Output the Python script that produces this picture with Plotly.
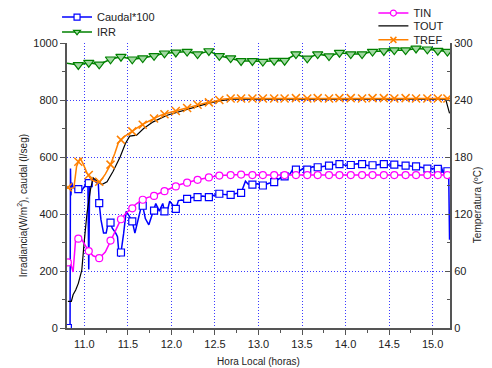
import plotly.graph_objects as go

# ---------------- data ----------------
marker_hours = [10.81, 10.93, 11.05, 11.17, 11.30, 11.42, 11.55, 11.67, 11.80, 11.92,
                12.05, 12.18, 12.30, 12.43, 12.55, 12.68, 12.80, 12.93, 13.05, 13.18,
                13.30, 13.43, 13.56, 13.68, 13.81, 13.93, 14.06, 14.19, 14.31, 14.44,
                14.56, 14.69, 14.81, 14.94, 15.06, 15.17]

# Caudal*100 (left axis)
caudal_h = [10.81, 10.835, 10.84, 10.845, 10.855, 10.87, 10.90, 10.93, 10.96, 10.99,
            11.02, 11.04, 11.05, 11.06, 11.08, 11.11, 11.13, 11.16, 11.17, 11.19,
            11.22, 11.25, 11.27, 11.30, 11.32, 11.36, 11.38, 11.40, 11.42, 11.45,
            11.48, 11.51, 11.55, 11.58, 11.62, 11.66, 11.67, 11.70, 11.74, 11.78,
            11.80, 11.82, 11.86, 11.90, 11.92, 11.96, 11.98, 12.02, 12.05, 12.08,
            12.12, 12.15, 12.18, 12.24, 12.30, 12.36, 12.43, 12.49, 12.55, 12.62,
            12.68, 12.74, 12.80, 12.85, 12.88, 12.93, 12.99, 13.05, 13.12, 13.18,
            13.22, 13.26, 13.31, 13.36, 13.40, 13.43, 13.48, 13.52, 13.56, 13.62,
            13.69, 13.75, 13.81, 13.87, 13.94, 14.00, 14.07, 14.13, 14.19, 14.25,
            14.32, 14.38, 14.44, 14.50, 14.57, 14.63, 14.69, 14.75, 14.81, 14.88,
            14.94, 15.00, 15.06, 15.10, 15.12, 15.14, 15.17, 15.185, 15.195]
caudal_v = [0, 0, 560, 465, 510, 495, 485, 487, 478, 492,
            505, 510, 205, 510, 522, 520, 512, 505, 438, 380,
            333, 333, 365, 370, 350, 333, 320, 250, 265, 330,
            409, 395, 374, 333, 380, 435, 429, 384, 362, 398,
            412, 437, 410, 437, 409, 420, 445, 430, 418, 447,
            449, 445, 453, 458, 459, 463, 459, 466, 471, 468,
            467, 472, 474, 515, 505, 503, 506, 500, 508, 512,
            520, 528, 532, 540, 560, 556, 553, 562, 556, 566,
            564, 568, 570, 574, 575, 571, 572, 576, 575, 570,
            571, 574, 575, 572, 573, 569, 570, 568, 567, 563,
            559, 560, 558, 567, 545, 555, 550, 545, 310]
caudal_mv = [0, 487, 508, 438, 370, 265, 374, 429, 412, 409,
             418, 453, 459, 459, 471, 467, 474, 503, 500, 512,
             532, 556, 556, 564, 570, 575, 572, 575, 571, 575,
             573, 570, 567, 559, 558, 550]

# IRR (left axis)
irr_h = [10.80] + marker_hours[1:]
irr_v = [929, 923, 931, 925, 943, 952, 943, 947, 955, 964,
         967, 970, 961, 972, 955, 947, 937, 937, 935, 938,
         938, 961, 946, 961, 954, 966, 961, 961, 970, 972,
         975, 975, 981, 978, 973, 970]
irr_mv = [None] + irr_v[1:]

# Temperatures (right axis, ºC)
tin_h = [10.80, 10.84, 10.87, 10.90, 10.95, 11.00, 11.05, 11.10, 11.17, 11.24,
         11.30, 11.36, 11.42, 11.48, 11.54, 11.60, 11.67, 11.73, 11.79, 11.86,
         11.92, 11.98, 12.04, 12.10, 12.17, 12.30, 12.43, 12.55, 12.68, 12.80,
         13.00, 13.50, 14.00, 14.50, 15.00, 15.17]
tin_v = [70, 68.5, 59, 94.5, 96, 88, 81, 76, 73.5, 80,
         92, 104, 114.5, 121, 126, 131, 135, 137.5, 139, 142,
         144, 146.5, 149, 151, 153, 156, 158.5, 160.5, 161, 161.5,
         161, 161, 161, 161, 161, 161]
tin_mv = [69, 94, 81, 73.5, 92, 114.5, 126, 135, 139, 144,
          149, 153, 156, 158.5, 160.5, 161, 161.5, 161, 161, 161,
          161, 161, 161, 161, 161, 161, 161, 161, 161, 161,
          161, 161, 161, 161, 161, 161]

tout_h = [10.81, 10.85, 10.87, 10.90, 10.93, 10.97, 11.00, 11.03, 11.07, 11.10,
          11.14, 11.20, 11.26, 11.33, 11.41, 11.47, 11.52, 11.60, 11.68, 11.79,
          11.95, 12.10, 12.25, 12.40, 12.55, 12.70, 13.00, 13.50, 14.00, 14.50,
          15.00, 15.15, 15.195]
tout_v = [28, 28, 35, 40, 47, 61, 93, 121, 146, 158,
          155, 151, 154, 165, 180, 194, 202, 203, 210, 217,
          224, 228, 232, 236, 239, 241, 241, 241, 241.5, 241.5,
          241, 241, 226]

tref_h = [10.80, 10.85, 10.88, 10.91, 10.95, 10.99, 11.03, 11.08, 11.13, 11.18,
          11.24, 11.30, 11.35, 11.39, 11.45, 11.54, 11.61, 11.68, 11.75, 11.81,
          11.88, 11.95, 12.02, 12.08, 12.15, 12.21, 12.27, 12.33, 12.40, 12.46,
          12.53, 12.60, 12.68, 12.75, 13.00, 13.50, 14.00, 14.50, 15.00, 15.20]
tref_v = [147, 147, 148, 170, 179, 172, 163, 156, 154, 154,
          162, 172, 184, 195, 201, 207, 211, 215, 218, 221,
          224, 226, 228, 229, 231, 232.5, 234, 236, 237, 238,
          239.5, 241, 241.5, 242, 241.5, 241.5, 242, 242, 241.5, 241.5]
tref_mv = [148, 175, 161, 154, 172, 198, 207, 214, 220.5, 225,
           228.5, 231.5, 235, 237.5, 240, 241.5, 241.5, 241.5, 241.5, 241.5,
           241.5, 242, 241.5, 242, 241.5, 242, 242, 241.5, 242, 242,
           241.5, 242, 241.5, 241.5, 241.5, 241.5]

# ---------------- styling ----------------
FONT = "Liberation Sans, Arial, sans-serif"
BLUE = "#0000ff"
GREEN = "#008000"
MAG = "#ff00ff"
ORANGE = "#ff8000"
GRID = "#3a3aff"
AXC = "#555555"

STYLE = {
    "Caudal*100": dict(color=BLUE, width=1.5, yaxis="y", legend="legend",
                       symbol="square", msize=7, mfill="white", mline=1.2),
    "IRR": dict(color=GREEN, width=1.5, yaxis="y", legend="legend2",
                symbol="triangle-down", msize=9, mfill="#a0d8a0", mline=1.2),
    "TIN": dict(color=MAG, width=1.5, yaxis="y2", legend="legend3",
                symbol="circle", msize=7, mfill="white", mline=1.2),
    "TOUT": dict(color="#000000", width=1.2, yaxis="y2", legend="legend4",
                 symbol=None, msize=0, mfill="white", mline=1),
    "TREF": dict(color=ORANGE, width=1.5, yaxis="y2", legend="legend5",
                 symbol="x-thin", msize=8, mfill=ORANGE, mline=1.5),
}

SERIES = {
    "Caudal*100": (caudal_h, caudal_v, marker_hours, caudal_mv),
    "IRR": (irr_h, irr_v, marker_hours, irr_mv),
    "TIN": (tin_h, tin_v, marker_hours, tin_mv),
    "TOUT": (tout_h, tout_v, None, None),
    "TREF": (tref_h, tref_v, marker_hours, tref_mv),
}

fig = go.Figure()

# drawing order
for name in ["IRR", "Caudal*100", "TOUT", "TREF", "TIN"]:
    st = STYLE[name]
    h, v, mh, mv = SERIES[name]
    fig.add_trace(go.Scatter(x=h, y=v, mode="lines", line=dict(color=st["color"], width=st["width"]),
                             yaxis=st["yaxis"], showlegend=False, hoverinfo="skip"))
    if st["symbol"] is not None:
        fig.add_trace(go.Scatter(x=mh, y=mv, mode="markers", yaxis=st["yaxis"], showlegend=False,
                                 marker=dict(symbol=st["symbol"], size=st["msize"], color=st["mfill"],
                                             line=dict(color=st["color"], width=st["mline"]))))

# legend entries
for name in ["Caudal*100", "IRR", "TIN", "TOUT", "TREF"]:
    st = STYLE[name]
    fig.add_trace(go.Scatter(x=[None], y=[None], name=name, yaxis=st["yaxis"], legend=st["legend"],
                             mode="lines+markers" if st["symbol"] else "lines",
                             line=dict(color=st["color"], width=st["width"]),
                             marker=dict(symbol=st["symbol"] or "circle", size=6, color=st["mfill"],
                                         line=dict(color=st["color"], width=st["mline"]))))

tickfont = dict(family=FONT, size=11, color="#222222")


def leg(x, y):
    return dict(x=x, y=y, xanchor="left", yanchor="middle", bgcolor="rgba(0,0,0,0)",
                font=dict(family=FONT, size=11), itemwidth=30)


# the page body adds an 8 px offset: figure is 8 px smaller and the
# top/left margins are reduced to keep the plot area where the reference has it
fig.update_layout(
    width=484, height=360,
    margin=dict(l=59, r=42, t=35, b=40, autoexpand=False),
    paper_bgcolor="white", plot_bgcolor="white",
    font=dict(family=FONT, size=11, color="#222222"),
    xaxis=dict(range=[10.8, 15.2], tick0=11.0, dtick=0.5, tickformat=".1f",
               showline=True, linecolor=AXC, linewidth=2,
               ticks="outside", ticklen=5, tickwidth=1, tickcolor=AXC,
               minor=dict(dtick=0.25, ticks="outside", ticklen=3, tickcolor=AXC, showgrid=False),
               showgrid=True, gridcolor=GRID, griddash="1px,2px", gridwidth=1,
               zeroline=False, tickfont=tickfont,
               title=dict(text="Hora Local (horas)", font=dict(family=FONT, size=10),
                          standoff=9)),
    yaxis=dict(range=[0, 1000], dtick=200, showline=True, linecolor=AXC, linewidth=2,
               ticks="outside", ticklen=5, tickcolor=AXC,
               minor=dict(dtick=100, ticks="outside", ticklen=3, tickcolor=AXC, showgrid=False),
               showgrid=True, gridcolor=GRID, griddash="1px,2px", gridwidth=1,
               zeroline=False, tickfont=tickfont),
    yaxis2=dict(range=[0, 300], dtick=60, overlaying="y", side="right", anchor="x",
                showline=True, linecolor=AXC, linewidth=2,
                ticks="inside", ticklen=5, tickcolor=AXC,
                minor=dict(dtick=30, ticks="inside", ticklen=3, tickcolor=AXC, showgrid=False),
                showgrid=False, zeroline=False, tickfont=tickfont),
    legend=leg(-0.026, 1.091),
    legend2=leg(-0.026, 1.039),
    legend3=leg(0.80, 1.105),
    legend4=leg(0.80, 1.060),
    legend5=leg(0.80, 1.011),
    annotations=[
        dict(text="Irradiancia(W/m<sup>2</sup>), caudal (l/seg)", xref="paper", yref="paper",
             x=-0.136, y=0.43, textangle=-90, showarrow=False,
             font=dict(family=FONT, size=10)),
        dict(text="Temperatura (ºC)", xref="paper", yref="paper",
             x=1.092, y=0.43, textangle=-90, showarrow=False,
             font=dict(family=FONT, size=10)),
    ],
)

fig.write_html("out.html")
